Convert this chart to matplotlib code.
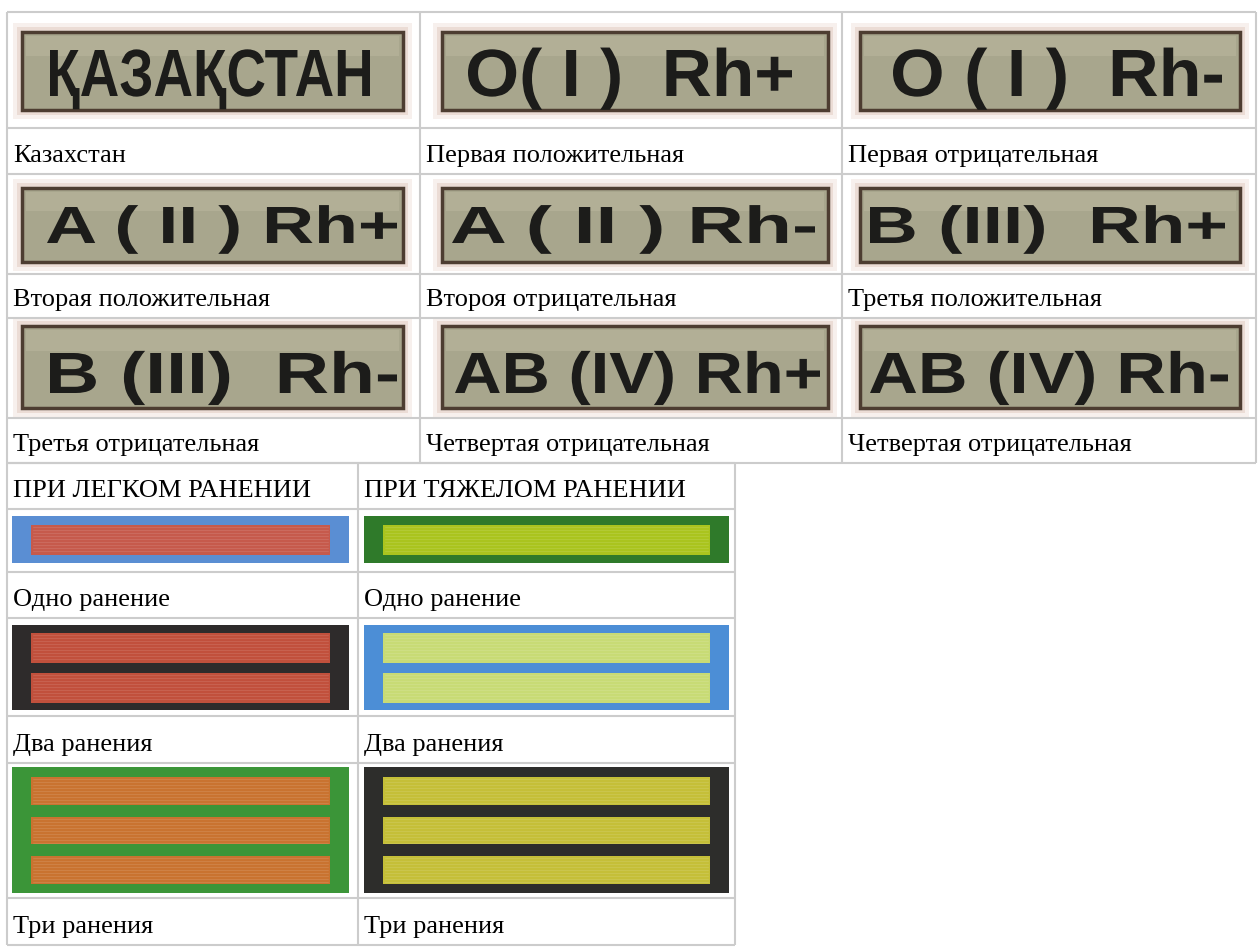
import matplotlib
matplotlib.use('Agg')
import matplotlib.pyplot as plt
from matplotlib.patches import Rectangle, PathPatch
from matplotlib.textpath import TextPath
from matplotlib.font_manager import FontProperties
from matplotlib.transforms import Affine2D

# ---------------- data ----------------
patch_labels = [
    ["ҚАЗАҚСТАН", "O( I )  Rh+", "O ( I )  Rh-"],
    ["A ( II ) Rh+", "A ( II ) Rh-", "B (III)  Rh+"],
    ["B (III)  Rh-", "AB (IV) Rh+", "AB (IV) Rh-"],
]
patch_captions = [
    ["Казахстан", "Первая положительная", "Первая отрицательная"],
    ["Вторая положительная", "Второя отрицательная", "Третья положительная"],
    ["Третья отрицательная", "Четвертая отрицательная", "Четвертая отрицательная"],
]
wound_headers = ["ПРИ ЛЕГКОМ РАНЕНИИ", "ПРИ ТЯЖЕЛОМ РАНЕНИИ"]
wound_counts = [1, 2, 3]
wound_captions = ["Одно ранение", "Два ранения", "Три ранения"]
light_border = ["#5a8ed3", "#2e2b2b", "#3b9538"]
light_fill = ["#c65a4c", "#c1503c", "#c97330"]
heavy_border = ["#2f7a2a", "#4c8ed6", "#2d2d2b"]
heavy_fill = ["#aac41e", "#c8db75", "#c5bf38"]

# ---------------- layout ----------------
W, H = 1258, 951
fig = plt.figure(figsize=(W / 100, H / 100), dpi=100)
ax = fig.add_axes([0, 0, 1, 1])
ax.set_xlim(0, W)
ax.set_ylim(H, 0)
ax.axis('off')

grid_c = '#cccccc'
lw = 1.5

top_cols = [7, 420, 842, 1256]
top_rows = [12, 128, 174, 274, 318, 418, 463]
bot_cols = [7, 358, 735]
bot_rows = [463, 509, 572, 618, 716, 763, 898, 945]

for y in top_rows:
    ax.plot([top_cols[0], top_cols[-1]], [y, y], color=grid_c, lw=lw, solid_capstyle='butt', zorder=5)
for x in top_cols:
    ax.plot([x, x], [top_rows[0], top_rows[-1]], color=grid_c, lw=lw, solid_capstyle='butt', zorder=5)
for y in bot_rows:
    ax.plot([bot_cols[0], bot_cols[-1]], [y, y], color=grid_c, lw=lw, solid_capstyle='butt', zorder=5)
for x in bot_cols:
    ax.plot([x, x], [bot_rows[0], bot_rows[-1]], color=grid_c, lw=lw, solid_capstyle='butt', zorder=5)

cap_font = dict(family=['Liberation Serif', 'DejaVu Serif'], fontsize=19, color='black')

# ---------------- camo patches ----------------
patch_x = [(22, 403), (442, 828), (860, 1240)]
patch_y = [(32, 110), (188, 262), (326, 408)]
text_x = [
    [(50, 370), (468, 792), (893, 1222)],
    [(47, 397), (452, 815), (870, 1225)],
    [(50, 397), (455, 820), (870, 1228)],
]
text_base = [96, 243, 393]
text_cap = [46, 36, 40]

fp = FontProperties(family='Liberation Sans', weight='bold')
hpath = TextPath((0, 0), "H", size=100, prop=fp)
cap_h = hpath.get_extents().height

for r in range(3):
    for c in range(3):
        x0, x1 = patch_x[c]
        y0, y1 = patch_y[r]
        # halo
        ax.add_patch(Rectangle((x0 - 9, y0 - 9), x1 - x0 + 18, y1 - y0 + 18,
                               facecolor='#f7f0ed', edgecolor='none', zorder=1))
        ax.add_patch(Rectangle((x0 - 5, y0 - 5), x1 - x0 + 10, y1 - y0 + 10,
                               facecolor='#ebdcd5', edgecolor='none', zorder=1))
        ax.add_patch(Rectangle((x0, y0), x1 - x0, y1 - y0,
                               facecolor='#a8a68d', edgecolor='#4d3d31', lw=2.5, zorder=2))
        # lighter camo tone band
        ax.add_patch(Rectangle((x0 + 4, y0 + 4), x1 - x0 - 8, (y1 - y0) * 0.25,
                               facecolor='#bdb9a0', edgecolor='none', alpha=0.5, zorder=2))
        # text
        s = patch_labels[r][c]
        tp = TextPath((0, 0), s, size=100, prop=fp)
        ext = tp.get_extents()
        tx0, tx1 = text_x[r][c]
        sx = (tx1 - tx0) / ext.width
        sy = text_cap[r] / cap_h
        tr = Affine2D().translate(-ext.x0, 0).scale(sx, -sy).translate(tx0, text_base[r])
        ax.add_patch(PathPatch(tr.transform_path(tp), facecolor='#1c1c1a',
                               edgecolor='none', zorder=3))
        # caption
        ax.text(top_cols[c] + 6, top_rows[2 * r + 2] - 12, patch_captions[r][c],
                va='baseline', ha='left', zorder=6, **cap_font)

# ---------------- wound bars ----------------
for c in range(2):
    ax.text(bot_cols[c] + 6, bot_rows[1] - 12, wound_headers[c],
            va='baseline', ha='left', zorder=6, **cap_font)

bar_x = [(12, 349), (364, 729)]
bar_y = [(516, 563), (625, 710), (767, 893)]
for i, n in enumerate(wound_counts):
    for c in range(2):
        border = light_border[i] if c == 0 else heavy_border[i]
        fill = light_fill[i] if c == 0 else heavy_fill[i]
        x0, x1 = bar_x[c]
        y0, y1 = bar_y[i]
        ax.add_patch(Rectangle((x0, y0), x1 - x0, y1 - y0, facecolor=border,
                               edgecolor='none', zorder=2))
        side = 19
        top_m = 9 if n == 1 else 8 if n == 2 else 10
        bot_m = 8 if n == 1 else 7 if n == 2 else 9
        gap = 0 if n == 1 else 10 if n == 2 else 12
        sh = ((y1 - y0) - top_m - bot_m - gap * (n - 1)) / n
        for k in range(n):
            sy0 = y0 + top_m + k * (sh + gap)
            ax.add_patch(Rectangle((x0 + side, sy0), x1 - x0 - 2 * side, sh,
                                   facecolor=fill, edgecolor='none', zorder=3))
            # thread texture
            yy = sy0 + 2
            while yy < sy0 + sh - 1:
                ax.plot([x0 + side + 2, x1 - side - 2], [yy, yy], color='white',
                        lw=0.4, alpha=0.18, zorder=4)
                yy += 3
        ax.text(bot_cols[c] + 6, bot_rows[2 * i + 3] - 12, wound_captions[i],
                va='baseline', ha='left', zorder=6, **cap_font)

fig.savefig('out.png', dpi=100, facecolor='white')
